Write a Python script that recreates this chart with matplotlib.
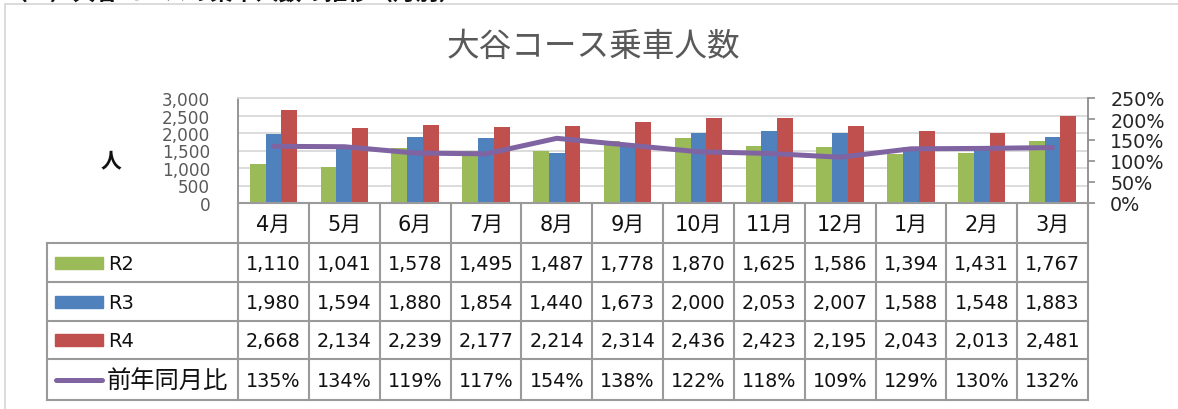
import matplotlib
matplotlib.use("Agg")
import matplotlib.pyplot as plt
import numpy as np
from matplotlib.patches import Rectangle
from matplotlib.ticker import FuncFormatter, MultipleLocator

plt.rcParams["font.family"] = ["DejaVu Sans", "Noto Sans CJK JP"]

# data
months = ["4月", "5月", "6月", "7月", "8月", "9月", "10月", "11月", "12月", "1月", "2月", "3月"]
r2 = [1110, 1041, 1578, 1495, 1487, 1778, 1870, 1625, 1586, 1394, 1431, 1767]
r3 = [1980, 1594, 1880, 1854, 1440, 1673, 2000, 2053, 2007, 1588, 1548, 1883]
r4 = [2668, 2134, 2239, 2177, 2214, 2314, 2436, 2423, 2195, 2043, 2013, 2481]
ratio = [135, 134, 119, 117, 154, 138, 122, 118, 109, 129, 130, 132]
series_names = ["R2", "R3", "R4"]
ratio_name = "前年同月比"
title = "大谷コース乗車人数"
heading = "（２）大谷コースの乗車人数の推移（月別）"
y_label = "人"

COLORS = ["#9BBB59", "#4F81BD", "#C0504D"]
LINE_COLOR = "#8064A2"
GRID_COLOR = "#D9D9D9"
AXIS_COLOR = "#8C8C8C"
TABLE_COLOR = "#9A9A9A"

# layout in pixels
W, H = 1178, 410
PLOT_L, PLOT_R = 238, 1088
PLOT_T, PLOT_B = 99, 204
ROW_EDGES = [204, 244, 283, 322, 360, 401]
TABLE_L = 47

fig = plt.figure(figsize=(W / 100, H / 100), dpi=100)
ax = fig.add_axes([PLOT_L / W, 1 - PLOT_B / H, (PLOT_R - PLOT_L) / W, (PLOT_B - PLOT_T) / H])

x = np.arange(len(months))
bw = 0.223
for i, (vals, c) in enumerate(zip([r2, r3, r4], COLORS)):
    ax.bar(x + (i - 1) * bw, vals, width=bw, color=c, zorder=2)

ax.set_xlim(-0.5, len(months) - 0.5)
ax.set_ylim(0, 3000)
ax.yaxis.set_major_locator(MultipleLocator(500))
ax.yaxis.set_major_formatter(FuncFormatter(lambda v, p: f"{v:,.0f}"))
ax.tick_params(axis="y", length=0, pad=20, labelsize=12.2, labelcolor="#595959")
ax.set_xticks([])
ax.grid(axis="y", color=GRID_COLOR, lw=1.3)
ax.set_axisbelow(True)
ax.spines["top"].set_color(GRID_COLOR)
ax.spines["top"].set_linewidth(1.3)
ax.spines["bottom"].set_visible(False)
ax.spines["right"].set_visible(False)
ax.spines["left"].set_color(AXIS_COLOR)
ax.spines["left"].set_linewidth(1.3)

ax2 = ax.twinx()
ax2.plot(x, np.array(ratio) / 100, color=LINE_COLOR, lw=3.6, solid_capstyle="round", zorder=3)
ax2.set_ylim(0, 2.5)
ax2.yaxis.set_major_locator(MultipleLocator(0.5))
ax2.yaxis.set_major_formatter(FuncFormatter(lambda v, p: f"{v * 100:.0f}%"))
ax2.tick_params(axis="y", length=5, width=1.2, color=AXIS_COLOR, pad=11, labelsize=13.8, labelcolor="#262626")
for s in ["top", "bottom", "left"]:
    ax2.spines[s].set_visible(False)
ax2.spines["right"].set_color(AXIS_COLOR)
ax2.spines["right"].set_linewidth(1.3)

# overlay in pixel coordinates for data table and frame
ov = fig.add_axes([0, 0, 1, 1], zorder=5)
ov.set_xlim(0, W)
ov.set_ylim(H, 0)
ov.axis("off")
ov.patch.set_visible(False)

col_w = (PLOT_R - PLOT_L) / len(months)
ov.plot([PLOT_L, PLOT_R], [ROW_EDGES[0]] * 2, color=TABLE_COLOR, lw=1.5)
for y in ROW_EDGES[1:]:
    ov.plot([TABLE_L, PLOT_R], [y, y], color=TABLE_COLOR, lw=1.5)
for k in range(len(months) + 1):
    xk = PLOT_L + k * col_w
    ov.plot([xk, xk], [ROW_EDGES[0], ROW_EDGES[-1]], color=TABLE_COLOR, lw=1.5)
ov.plot([TABLE_L, TABLE_L], [ROW_EDGES[1], ROW_EDGES[-1]], color=TABLE_COLOR, lw=1.5)

row_c = [(ROW_EDGES[i] + ROW_EDGES[i + 1]) / 2 for i in range(len(ROW_EDGES) - 1)]
for k, m in enumerate(months):
    ov.text(PLOT_L + (k + 0.5) * col_w, row_c[0] + 1, m, ha="center", va="center",
            fontsize=15, color="#111111")
rows = [[f"{v:,}" for v in s] for s in (r2, r3, r4)]
rows += [[f"{v}%" for v in ratio]]
for yc, cells in zip(row_c[1:], rows):
    for k, txt in enumerate(cells):
        ov.text(PLOT_L + (k + 0.5) * col_w, yc + 1, txt, ha="center", va="center",
                fontsize=13.8, color="#111111")

for name, c, yc in zip(series_names, COLORS, row_c[1:4]):
    ov.add_patch(Rectangle((55, yc - 6), 48, 12, color=c))
    ov.text(108, yc + 1, name, ha="left", va="center", fontsize=14, color="#111111")
ov.plot([56, 102], [row_c[4]] * 2, color=LINE_COLOR, lw=3.6, solid_capstyle="round")
ov.text(107, row_c[4] + 1, ratio_name, ha="left", va="center", fontsize=17.5, color="#111111")

ov.text(111, 161, y_label, ha="center", va="center", fontsize=15, fontweight="bold", color="#111111")
ov.text(593, 46, title, ha="center", va="center", fontsize=23.5, color="#595959")

# outer chart frame
ov.plot([4.5, W], [4.5, 4.5], color=GRID_COLOR, lw=1.3)
ov.plot([4.5, 4.5], [4.5, H], color=GRID_COLOR, lw=1.3)

fig.text(5 / W, 1 - 0.5 / H, heading, ha="left", va="baseline", fontsize=16.5, fontweight="bold", color="#111111")

fig.savefig("out.png", dpi=100)
